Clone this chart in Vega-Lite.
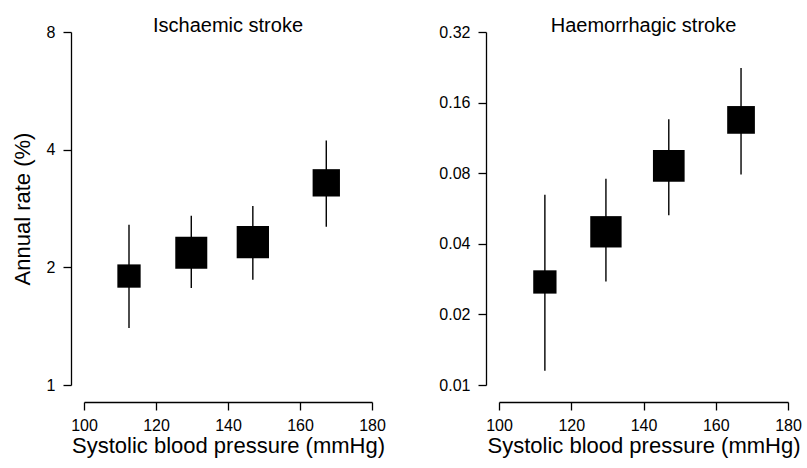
{
  "$schema": "https://vega.github.io/schema/vega-lite/v6.json",
  "background": "white",
  "padding": {"left": 11, "top": 16, "right": 5, "bottom": 5},
  "bounds": "flush",
  "spacing": 127,
  "datasets": {
    "isch": [
      {"sbp": 112.5, "rate": 1.90, "lo": 1.40, "hi": 2.57, "weight": 0.53},
      {"sbp": 129.8, "rate": 2.18, "lo": 1.77, "hi": 2.71, "weight": 1.0},
      {"sbp": 146.9, "rate": 2.32, "lo": 1.86, "hi": 2.87, "weight": 1.02},
      {"sbp": 167.3, "rate": 3.29, "lo": 2.54, "hi": 4.22, "weight": 0.73}
    ],
    "haem": [
      {"sbp": 112.7, "rate": 0.0275, "lo": 0.0115, "hi": 0.0648, "weight": 0.53},
      {"sbp": 129.6, "rate": 0.045, "lo": 0.0276, "hi": 0.0758, "weight": 0.96},
      {"sbp": 147.0, "rate": 0.086, "lo": 0.053, "hi": 0.136, "weight": 0.98},
      {"sbp": 167.0, "rate": 0.135, "lo": 0.079, "hi": 0.225, "weight": 0.75}
    ]
  },
  "config": {
    "font": "Liberation Sans",
    "view": {"stroke": null},
    "axis": {
      "grid": false,
      "domainColor": "black",
      "domainWidth": 1.3,
      "tickColor": "black",
      "tickWidth": 1.3,
      "tickSize": 8,
      "labelColor": "black",
      "labelFontSize": 16,
      "labelFlush": false,
      "labelOverlap": false,
      "labelFont": "Liberation Sans",
      "titleFont": "Liberation Sans",
      "titleFontSize": 22,
      "titleFontWeight": "normal",
      "titleColor": "black"
    },
    "axisX": {"offset": 17, "labelPadding": 7, "titlePadding": 2},
    "axisY": {"offset": 13, "labelPadding": 8, "titlePadding": 12},
    "title": {"fontSize": 20, "fontWeight": "normal", "font": "Liberation Sans", "color": "black", "offset": -12}
  },
  "hconcat": [
    {
      "title": "Ischaemic stroke",
      "width": 288,
      "height": 353,
      "data": {"name": "isch"},
      "layer": [
        {
          "mark": {"type": "rule", "color": "black", "strokeWidth": 1.4},
          "encoding": {
            "x": {"field": "sbp", "type": "quantitative", "scale": {"domain": [100, 180], "nice": false, "zero": false},
                  "axis": {"values": [100, 120, 140, 160, 180], "title": "Systolic blood pressure (mmHg)"}},
            "y": {"field": "lo", "type": "quantitative", "scale": {"type": "log", "base": 2, "domain": [1, 8], "nice": false},
                  "axis": {"values": [1, 2, 4, 8], "format": ".2~f", "title": "Annual rate (%)"}},
            "y2": {"field": "hi"}
          }
        },
        {
          "mark": {"type": "point", "shape": "square", "filled": true, "color": "black", "opacity": 1, "strokeWidth": 0},
          "encoding": {
            "x": {"field": "sbp", "type": "quantitative"},
            "y": {"field": "rate", "type": "quantitative"},
            "size": {"field": "weight", "type": "quantitative", "scale": {"domain": [0, 1], "range": [0, 1024]}, "legend": null}
          }
        }
      ]
    },
    {
      "title": "Haemorrhagic stroke",
      "width": 289,
      "height": 353,
      "data": {"name": "haem"},
      "layer": [
        {
          "mark": {"type": "rule", "color": "black", "strokeWidth": 1.4},
          "encoding": {
            "x": {"field": "sbp", "type": "quantitative", "scale": {"domain": [100, 180], "nice": false, "zero": false},
                  "axis": {"values": [100, 120, 140, 160, 180], "title": "Systolic blood pressure (mmHg)"}},
            "y": {"field": "lo", "type": "quantitative", "scale": {"type": "log", "base": 2, "domain": [0.01, 0.32], "nice": false},
                  "axis": {"values": [0.01, 0.02, 0.04, 0.08, 0.16, 0.32], "format": ".2~f", "title": null}},
            "y2": {"field": "hi"}
          }
        },
        {
          "mark": {"type": "point", "shape": "square", "filled": true, "color": "black", "opacity": 1, "strokeWidth": 0},
          "encoding": {
            "x": {"field": "sbp", "type": "quantitative"},
            "y": {"field": "rate", "type": "quantitative"},
            "size": {"field": "weight", "type": "quantitative", "scale": {"domain": [0, 1], "range": [0, 1024]}, "legend": null}
          }
        }
      ]
    }
  ]
}
